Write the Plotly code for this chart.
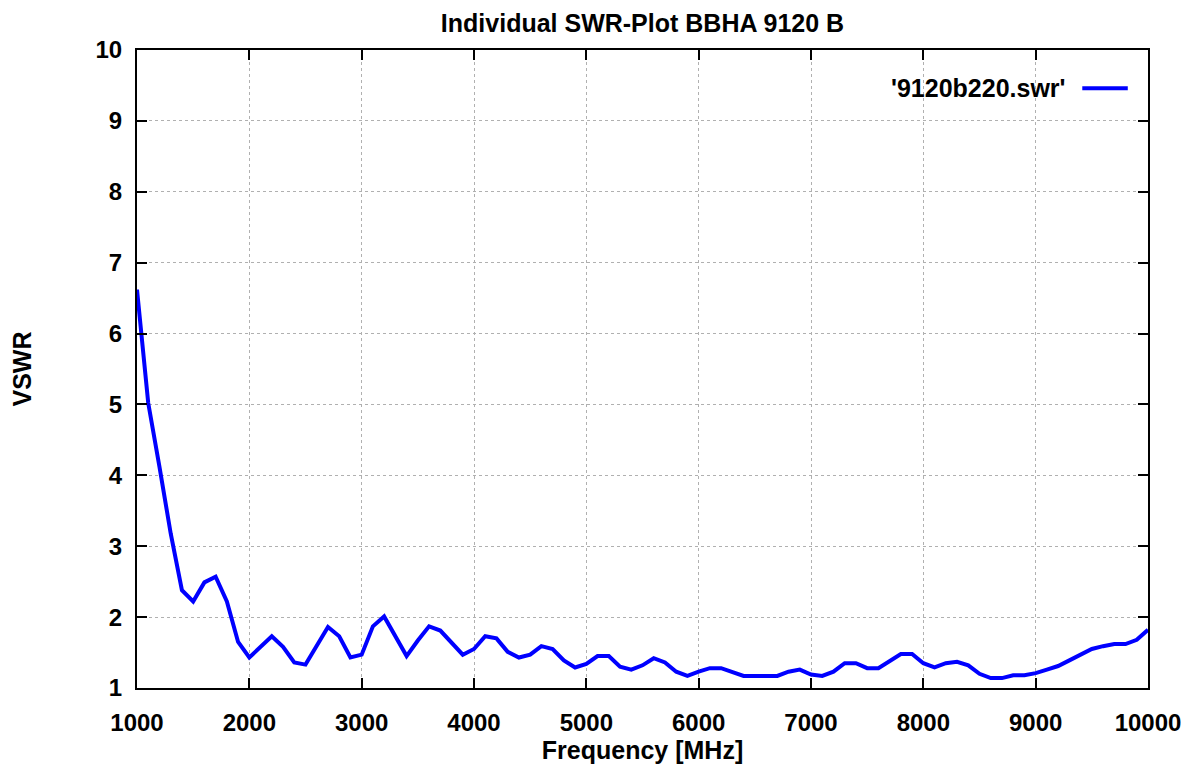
import plotly.graph_objects as go

freq_mhz = list(range(1000, 10001, 100))
vswr = [
    6.62, 5.02, 4.12, 3.18, 2.38, 2.22, 2.49, 2.57, 2.22, 1.65,
    1.43, 1.58, 1.73, 1.58, 1.36, 1.33, 1.59, 1.86, 1.73, 1.43,
    1.47, 1.87, 2.01, 1.72, 1.45, 1.67, 1.87, 1.81, 1.65, 1.47,
    1.55, 1.73, 1.70, 1.51, 1.43, 1.47, 1.59, 1.55, 1.39, 1.29,
    1.34, 1.45, 1.45, 1.30, 1.26, 1.32, 1.42, 1.36, 1.23, 1.17,
    1.23, 1.28, 1.28, 1.22, 1.17, 1.17, 1.17, 1.17, 1.23, 1.26,
    1.19, 1.17, 1.23, 1.35, 1.35, 1.28, 1.28, 1.38, 1.48, 1.48,
    1.35, 1.29, 1.35, 1.37, 1.32, 1.20, 1.14, 1.14, 1.18, 1.18,
    1.21, 1.26, 1.31, 1.39, 1.47, 1.55, 1.59, 1.62, 1.62, 1.68,
    1.82,
]
x_ticks = list(range(1000, 10001, 1000))
y_ticks = list(range(1, 11))
series_name = "'9120b220.swr'"

FONT = "Liberation Sans, Arial, sans-serif"

fig = go.Figure()
fig.add_trace(go.Scatter(
    x=freq_mhz, y=vswr, mode="lines", name=series_name,
    line=dict(color="#0000ff", width=4), showlegend=False,
))

axis_common = dict(
    showline=True, linecolor="black", linewidth=2, mirror="ticks",
    ticks="inside", ticklen=10, tickwidth=2, tickcolor="black",
    showgrid=True, gridcolor="#b0b0b0", griddash="dot", gridwidth=1,
    zeroline=False, automargin=False,
    tickfont=dict(family=FONT, size=24, color="black", weight="bold"),
)

fig.update_xaxes(
    range=[1000, 10000], tickvals=x_ticks, ticktext=[str(v) for v in x_ticks],
    ticklabelstandoff=12,
    title=dict(text="<b>Frequency [MHz]</b>", font=dict(family=FONT, size=25, color="black"), standoff=4),
    **axis_common,
)
fig.update_yaxes(
    range=[1, 10], tickvals=y_ticks, ticktext=[str(v) for v in y_ticks],
    ticklabelstandoff=8,
    title=dict(text="<b>VSWR</b>", font=dict(family=FONT, size=25, color="black"), standoff=58),
    **axis_common,
)

# legend drawn gnuplot-style: text on the left, line sample on the right
fig.add_annotation(
    xref="paper", yref="paper", x=0.921, y=0.940, xanchor="right", yanchor="middle",
    text="<b>" + series_name + "</b>", showarrow=False,
    font=dict(family=FONT, size=25, color="black"),
)
fig.add_shape(
    type="line", xref="paper", yref="paper", x0=0.935, x1=0.980, y0=0.940, y1=0.940,
    line=dict(color="#0000ff", width=4),
)

fig.update_layout(
    width=1185, height=761,
    margin=dict(l=129, r=45, t=42, b=81),
    paper_bgcolor="white", plot_bgcolor="white",
    title=dict(text="<b>Individual SWR-Plot BBHA 9120 B</b>", xref="paper", x=0.5, xanchor="center",
               y=0.980, yanchor="middle",
               font=dict(family=FONT, size=25, color="black")),
    showlegend=False,
)

fig.write_html("out.html")
